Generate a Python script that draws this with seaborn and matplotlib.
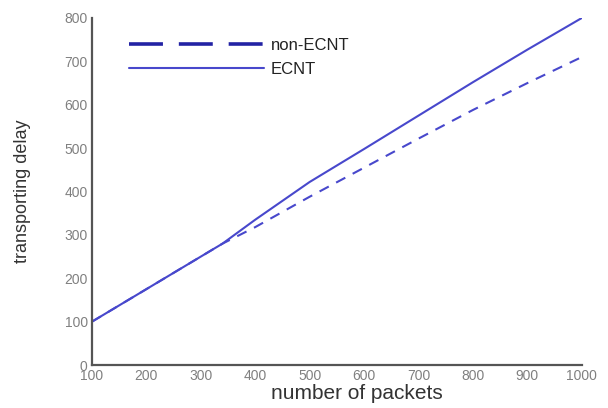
import numpy as np
import pandas as pd
import matplotlib
matplotlib.use("Agg")
import matplotlib.pyplot as plt
from matplotlib.lines import Line2D
import seaborn as sns

packets = [100, 200, 300, 340, 400, 500, 600, 700, 800, 900, 1000]
ecnt = [100, 175, 250, 280, 335, 422, 498, 575, 652, 727, 800]
non_ecnt = [100, 175, 250, 280, 318, 388, 455, 522, 588, 650, 710]
series_names = ["non-ECNT", "ECNT"]
x_ticks = [100, 200, 300, 400, 500, 600, 700, 800, 900, 1000]
y_ticks = [0, 100, 200, 300, 400, 500, 600, 700, 800]

df = pd.DataFrame({
    "packets": packets * 2,
    "delay": non_ecnt + ecnt,
    "series": [series_names[0]] * len(packets) + [series_names[1]] * len(packets),
})

sns.set_style("white")
plt.rcParams["font.family"] = ["Liberation Sans", "DejaVu Sans"]

fig = plt.figure(figsize=(6.08, 4.08), dpi=100)
ax = fig.add_axes([0.151, 0.105, 0.806, 0.851])

line_color = "#4848cc"
sns.lineplot(data=df, x="packets", y="delay", hue="series", style="series",
             palette={"non-ECNT": line_color, "ECNT": line_color},
             dashes={"non-ECNT": (5, 4), "ECNT": ""},
             linewidth=1.5, ax=ax, legend=False)

ax.set_xlim(100, 1000)
ax.set_ylim(0, 800)
ax.set_xticks(x_ticks)
ax.set_yticks(y_ticks)
ax.tick_params(direction="in", length=4, width=1.2, colors="#555555",
               labelsize=10, labelcolor="#808080")
ax.tick_params(axis="y", pad=3)
ax.tick_params(axis="x", pad=3)
for s in ["top", "right"]:
    ax.spines[s].set_visible(False)
for s in ["left", "bottom"]:
    ax.spines[s].set_color("#555555")
    ax.spines[s].set_linewidth(1.6)

ax.set_xlabel("number of packets", fontsize=15, color="#333333")
ax.xaxis.set_label_coords(0.54, -0.055)
ax.set_ylabel("transporting delay", fontsize=13, color="#333333")
ax.yaxis.set_label_coords(-0.125, 0.5)

handles = [
    Line2D([], [], color="#2222a4", linewidth=2.6, linestyle=(0, (9.4, 4.4))),
    Line2D([], [], color=line_color, linewidth=1.5, linestyle="-"),
]
ax.legend(handles, series_names, loc="upper left", bbox_to_anchor=(0.045, 0.985),
          frameon=False, fontsize=12, handlelength=8.1, handletextpad=0.4,
          labelspacing=0.55, labelcolor="#222222")

fig.savefig("out.png", dpi=100)
